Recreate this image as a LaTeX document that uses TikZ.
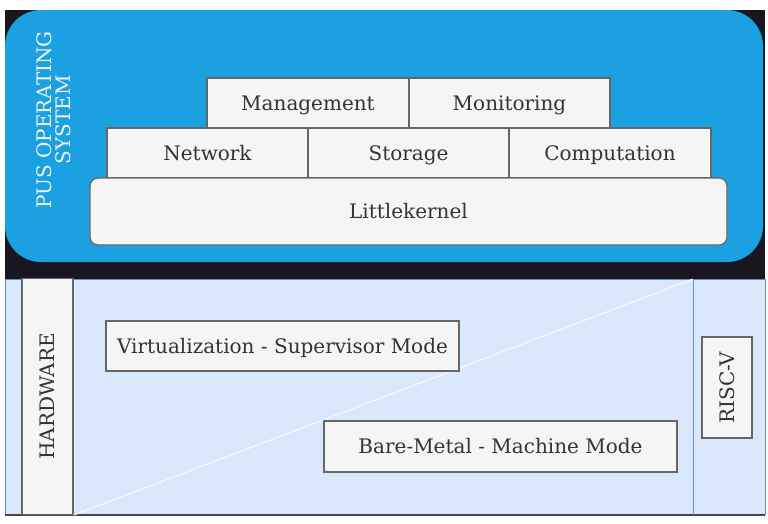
\documentclass[tikz,border=0pt]{standalone}
\usepackage{fontspec}
\setmainfont{DejaVu Serif}
\begin{document}
\begin{tikzpicture}[x=1pt,y=-1pt,
  lbl/.style={font=\fontsize{20}{23}\selectfont,text=black!80},
  box/.style={draw=black!60,fill=black!4,line width=1.2pt,lbl,inner sep=0pt,text height=17pt,text depth=2.5pt},
]
\useasboundingbox (0,0) rectangle (768,523);
\definecolor{osblue}{HTML}{1BA1E2}
\definecolor{darkbg}{HTML}{19161F}
\definecolor{hwblue}{HTML}{DAE8FC}
\definecolor{hwline}{HTML}{6C8EBF}
% top region
\fill[darkbg] (5,10) rectangle (765,279);
\fill[osblue,rounded corners=36pt] (5,10) rectangle (763,262);
\node[rotate=90,align=center,text=black!5,font=\fontsize{20}{19}\selectfont] (os) at (54,120) {PUS OPERATING\\SYSTEM};
% stack
\node[box,minimum width=202pt,minimum height=50pt] (mgmt) at (308,103) {Management};
\node[box,minimum width=201pt,minimum height=50pt] (mon) at (509.5,103) {Monitoring};
\node[box,minimum width=201pt,minimum height=50pt] (net) at (207.5,153) {Network};
\node[box,minimum width=201pt,minimum height=50pt] (sto) at (408.5,153) {Storage};
\node[box,minimum width=202pt,minimum height=50pt] (comp) at (610,153) {Computation};
\node[box,rounded corners=8pt,minimum width=637pt,minimum height=67pt] (lk) at (408.5,211.5) {Littlekernel};
% hardware region
\fill[hwblue] (5,279) rectangle (765,515);
\draw[hwline,line width=1pt] (5,279) -- (765,279);
\draw[hwline,line width=1pt] (5,279) -- (5,515);
\draw[hwline,line width=1pt] (765,279) -- (765,515);
\draw[darkbg!80,line width=1.5pt] (5,515) -- (765,515);
\node[box,minimum width=51pt,minimum height=236pt] (hw) at (47.5,396.5) {};
\node[rotate=90,lbl] (hwt) at (hw.center) {HARDWARE};
\coordinate (divtop) at (693,279);
\coordinate (divbot) at (693,515);
\draw[hwline,line width=1pt] (divtop) -- (divbot);
\draw[white!85!hwblue,line width=1pt] (hw.south east) -- (divtop);
\node[box,minimum width=353pt,minimum height=50pt] (virt) at (282.5,346) {Virtualization - Supervisor Mode};
\node[box,minimum width=353pt,minimum height=51pt] (bare) at (500.5,446.5) {Bare-Metal - Machine Mode};
\node[box,minimum width=50pt,minimum height=101pt] (risc) at (727,387.5) {};
\node[rotate=90,lbl] (risct) at (risc.center) {RISC-V};
\end{tikzpicture}
\end{document}
